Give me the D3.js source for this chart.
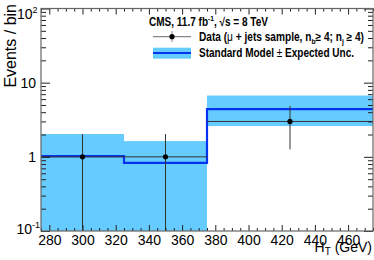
<!DOCTYPE html>
<html>
<head>
<meta charset="utf-8">
<script src="https://cdn.jsdelivr.net/npm/d3@7"></script>
<style>
  body { margin: 0; background: #fff; }
  svg { display: block; font-family: "Liberation Sans", Arial, sans-serif; }
</style>
</head>
<body>
<div id="chart"></div>
<script>
// bins (GeV) and values
var binEdges = [275, 325, 375, 475];
var smValues = [1.02, 0.83, 4.4];
var bandLow = [0.05, 0.05, 2.6];
var bandHigh = [2.03, 1.63, 6.7];

var dataX = [300, 350, 425];
var dataY = [1, 1, 3];
var dataErrLow = [0.01, 0.01, 1.26];
var dataErrHigh = [2.03, 2.03, 4.84];

var xMajorTicks = [280, 300, 320, 340, 360, 380, 400, 420, 440, 460];
var xMinorTicks = d3.range(275, 476, 5).filter(v => xMajorTicks.indexOf(v) < 0);
var yMajorTicks = [0.1, 1, 10, 100];
var yMinorTicks = [];
[0.1, 1, 10].forEach(function(d) {
  for (var k = 2; k < 10; k++) yMinorTicks.push(d * k);
});

var W = 374, H = 260;
var pLeft = 41, pRight = 373, pTop = 8.5, pBottom = 231;

var svg = d3.select("#chart").append("svg")
  .attr("width", W)
  .attr("height", H);

var x = d3.scaleLinear().domain([275, 475]).range([pLeft, pRight]);
var y = d3.scaleLog().domain([0.1, 100]).range([pBottom, pTop]);

svg.append("defs").append("clipPath")
  .attr("id", "clip")
  .append("rect")
  .attr("x", pLeft).attr("y", pTop)
  .attr("width", pRight - pLeft).attr("height", pBottom - pTop);

var plot = svg.append("g").attr("clip-path", "url(#clip)");

// expected uncertainty band
plot.selectAll(".band")
  .data(smValues)
  .enter().append("rect")
  .attr("class", "band")
  .attr("x", (d, i) => x(binEdges[i]))
  .attr("width", (d, i) => x(binEdges[i + 1]) - x(binEdges[i]))
  .attr("y", (d, i) => y(bandHigh[i]))
  .attr("height", (d, i) => y(bandLow[i]) - y(bandHigh[i]))
  .attr("fill", "#66ccff");

// standard model histogram
var stepPts = smValues.map((v, i) => [binEdges[i], v]);
stepPts.push([binEdges[binEdges.length - 1], smValues[smValues.length - 1]]);
var step = d3.line()
  .curve(d3.curveStepAfter)
  .x(d => x(d[0]))
  .y(d => y(d[1]));
plot.append("path")
  .attr("d", step(stepPts))
  .attr("fill", "none")
  .attr("stroke", "#0433f0")
  .attr("stroke-width", 2.2);

// data points
var dataG = plot.append("g");
dataX.forEach(function(xv, i) {
  dataG.append("line")
    .attr("x1", x(binEdges[i])).attr("x2", x(binEdges[i + 1]))
    .attr("y1", y(dataY[i])).attr("y2", y(dataY[i]))
    .attr("stroke", "#333").attr("stroke-width", 1);
  dataG.append("line")
    .attr("x1", x(xv)).attr("x2", x(xv))
    .attr("y1", y(dataErrLow[i])).attr("y2", y(dataErrHigh[i]))
    .attr("stroke", "#333").attr("stroke-width", 1);
  dataG.append("circle")
    .attr("cx", x(xv)).attr("cy", y(dataY[i]))
    .attr("r", 2.6)
    .attr("fill", "#000");
});

// axes
function styleAxis(g) {
  g.select(".domain").remove();
  g.selectAll(".tick line").attr("stroke", "#222");
}

svg.append("g")
  .attr("transform", "translate(0," + pBottom + ")")
  .call(d3.axisBottom(x).tickValues(xMajorTicks).tickSize(-6).tickPadding(4).tickFormat(d3.format("d")))
  .call(styleAxis)
  .call(g => g.selectAll("text").attr("font-size", 14).attr("font-family", "Liberation Sans, Arial").attr("fill", "#000"));
svg.append("g")
  .attr("transform", "translate(0," + pBottom + ")")
  .call(d3.axisBottom(x).tickValues(xMinorTicks).tickSize(-3).tickFormat(""))
  .call(styleAxis);
svg.append("g")
  .attr("transform", "translate(0," + pTop + ")")
  .call(d3.axisTop(x).tickValues(xMajorTicks).tickSize(-6).tickFormat(""))
  .call(styleAxis);
svg.append("g")
  .attr("transform", "translate(0," + pTop + ")")
  .call(d3.axisTop(x).tickValues(xMinorTicks).tickSize(-3).tickFormat(""))
  .call(styleAxis);

var yAxisG = svg.append("g")
  .attr("transform", "translate(" + pLeft + ",0)")
  .call(d3.axisLeft(y).tickValues(yMajorTicks).tickSize(-9).tickPadding(5).tickFormat(""))
  .call(styleAxis);
svg.append("g")
  .attr("transform", "translate(" + pLeft + ",0)")
  .call(d3.axisLeft(y).tickValues(yMinorTicks).tickSize(-5).tickFormat(""))
  .call(styleAxis);
svg.append("g")
  .attr("transform", "translate(" + pRight + ",0)")
  .call(d3.axisRight(y).tickValues(yMajorTicks).tickSize(-9).tickFormat(""))
  .call(styleAxis);
svg.append("g")
  .attr("transform", "translate(" + pRight + ",0)")
  .call(d3.axisRight(y).tickValues(yMinorTicks).tickSize(-5).tickFormat(""))
  .call(styleAxis);

// y tick labels, 10^n style at the ends
yAxisG.selectAll(".tick text").each(function(d) {
  var t = d3.select(this)
    .attr("font-size", 14)
    .attr("fill", "#000")
    .attr("font-family", "Liberation Sans, Arial")
    .attr("dy", null);
  if (d === 1 || d === 10) {
    t.attr("x", -5).attr("y", 5).text(String(d));
  } else {
    var e = Math.round(Math.log10(d));
    t.attr("x", e > 0 ? -3.5 : -1).attr("y", e > 0 ? 10 : 2);
    t.append("tspan").text("10");
    t.append("tspan").attr("font-size", 9).attr("dy", -6).text(String(e));
  }
});

// frame
svg.append("rect")
  .attr("x", pLeft).attr("y", pTop)
  .attr("width", pRight - pLeft).attr("height", pBottom - pTop)
  .attr("fill", "none")
  .attr("stroke", "#666")
  .attr("stroke-width", 1.2);

// axis titles
var xt = svg.append("text")
  .attr("x", pRight - 1).attr("y", 252)
  .attr("text-anchor", "end")
  .attr("font-size", 14);
xt.append("tspan").text("H");
xt.append("tspan").attr("font-size", 10).attr("dy", 3).text("T");
xt.append("tspan").attr("dy", -3).text(" (GeV)");

svg.append("text")
  .attr("transform", "translate(16," + 4 + ") rotate(-90)")
  .attr("text-anchor", "end")
  .attr("font-size", 16)
  .text("Events / bin");

// legend
var leg = svg.append("g").attr("font-weight", "bold").attr("font-size", 12);

var cms = leg.append("text").attr("x", 149).attr("y", 26)
  .attr("textLength", 119).attr("lengthAdjust", "spacingAndGlyphs");
cms.append("tspan").text("CMS, 11.7 fb");
cms.append("tspan").attr("font-size", 8).attr("dy", -5).text("-1");
cms.append("tspan").attr("dy", 5).text(", \u221As = 8 TeV");

leg.append("line")
  .attr("x1", 153).attr("x2", 191).attr("y1", 36.7).attr("y2", 36.7)
  .attr("stroke", "#888").attr("stroke-width", 1.2);
leg.append("line")
  .attr("x1", 172).attr("x2", 172).attr("y1", 31).attr("y2", 42)
  .attr("stroke", "#888").attr("stroke-width", 1);
leg.append("circle")
  .attr("cx", 172).attr("cy", 36.7).attr("r", 2.6).attr("fill", "#000");

var dl = leg.append("text").attr("x", 199).attr("y", 40.7)
  .attr("textLength", 165).attr("lengthAdjust", "spacingAndGlyphs");
dl.append("tspan").text("Data (");
dl.append("tspan").attr("font-weight", "normal").text("\u03BC");
dl.append("tspan").text(" + jets sample, n");
dl.append("tspan").attr("font-size", 8).attr("dy", 3).text("b");
dl.append("tspan").attr("dy", -3).text("\u2265 4; n");
dl.append("tspan").attr("font-size", 8).attr("dy", 3).text("j");
dl.append("tspan").attr("dy", -3).text(" \u2265 4)");

leg.append("rect")
  .attr("x", 153).attr("y", 47.7).attr("width", 38).attr("height", 11)
  .attr("fill", "#66ccff");
leg.append("line")
  .attr("x1", 153).attr("x2", 191).attr("y1", 53).attr("y2", 53)
  .attr("stroke", "#0433f0").attr("stroke-width", 2.2);
var sl = leg.append("text").attr("x", 199).attr("y", 57.3)
  .attr("textLength", 155).attr("lengthAdjust", "spacingAndGlyphs");
sl.append("tspan").text("Standard Model ");
sl.append("tspan").attr("font-weight", "normal").text("\u00B1");
sl.append("tspan").text(" Expected Unc.");
</script>
</body>
</html>
